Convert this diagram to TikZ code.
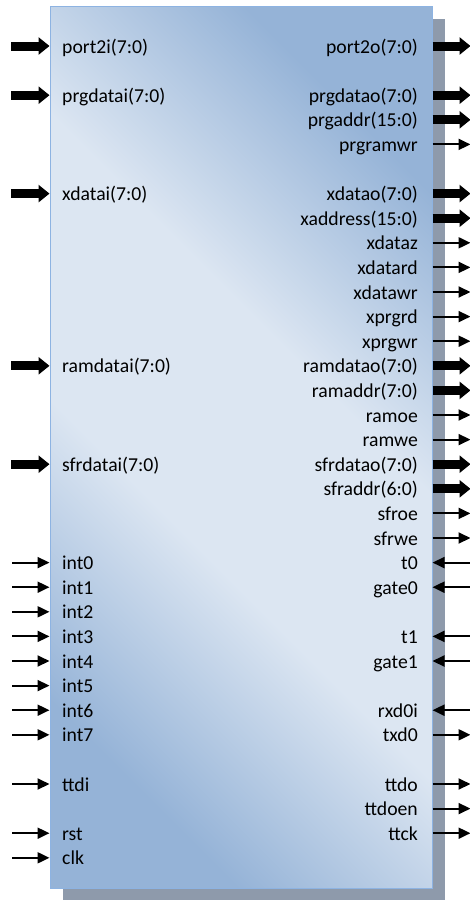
\documentclass[tikz,border=0pt]{standalone}
\usepackage{fontspec}
\setmainfont{Carlito}
\usetikzlibrary{arrows.meta,shadows}
\definecolor{boxdark}{HTML}{95B3D7}
\definecolor{boxlight}{HTML}{DCE6F2}
\definecolor{boxline}{HTML}{8DB3E2}
\definecolor{shadowgray}{HTML}{8E9AAB}
\pgfdeclareverticalshading{corefill}{100bp}{color(0bp)=(boxdark); color(25bp)=(boxdark);
  color(42bp)=(boxlight); color(58bp)=(boxlight); color(75bp)=(boxdark); color(100bp)=(boxdark)}

\begin{document}
\begin{tikzpicture}[x=1pt,y=-1pt,
  pinl/.style={anchor=west,inner sep=0pt,text height=14pt,text depth=0pt,font=\fontsize{19.7}{24}\selectfont},
  pinr/.style={pinl,anchor=east},
  wire/.style={line width=2pt,>={Triangle[length=12pt,width=11pt]}},
  bus/.style={line width=9pt,>={Triangle[length=11pt,width=17pt]}}]
\useasboundingbox (0,0) rectangle (470,900);
\node[draw=boxline,line width=1pt,inner sep=0pt,minimum width=382pt,minimum height=882pt,
  shade,shading=corefill,shading angle=-45,
  drop shadow={shadow xshift=12.5pt,shadow yshift=-12.5pt,fill=shadowgray,opacity=1}] (core) at (241,447) {};

\node[pinl] (port2i) at (62,46) {port2i(7:0)};
\node[pinl] (prgdatai) at (62,95.2) {prgdatai(7:0)};
\node[pinl] (xdatai) at (62,193.6) {xdatai(7:0)};
\node[pinl] (ramdatai) at (62,365.8) {ramdatai(7:0)};
\node[pinl] (sfrdatai) at (62,464.2) {sfrdatai(7:0)};
\node[pinl] (int0) at (62,562.6) {int0};
\node[pinl] (int1) at (62,587.2) {int1};
\node[pinl] (int2) at (62,611.8) {int2};
\node[pinl] (int3) at (62,636.4) {int3};
\node[pinl] (int4) at (62,661) {int4};
\node[pinl] (int5) at (62,685.6) {int5};
\node[pinl] (int6) at (62,710.2) {int6};
\node[pinl] (int7) at (62,734.8) {int7};
\node[pinl] (ttdi) at (62,784) {ttdi};
\node[pinl] (rst) at (62,833.2) {rst};
\node[pinl] (clk) at (62,857.8) {clk};

\node[pinr] (port2o) at (418,46) {port2o(7:0)};
\node[pinr] (prgdatao) at (418,95.2) {prgdatao(7:0)};
\node[pinr] (prgaddr) at (418,119.8) {prgaddr(15:0)};
\node[pinr] (prgramwr) at (418,144.4) {prgramwr};
\node[pinr] (xdatao) at (418,193.6) {xdatao(7:0)};
\node[pinr] (xaddress) at (418,218.2) {xaddress(15:0)};
\node[pinr] (xdataz) at (418,242.8) {xdataz};
\node[pinr] (xdatard) at (418,267.4) {xdatard};
\node[pinr] (xdatawr) at (418,292) {xdatawr};
\node[pinr] (xprgrd) at (418,316.6) {xprgrd};
\node[pinr] (xprgwr) at (418,341.2) {xprgwr};
\node[pinr] (ramdatao) at (418,365.8) {ramdatao(7:0)};
\node[pinr] (ramaddr) at (418,390.4) {ramaddr(7:0)};
\node[pinr] (ramoe) at (418,415) {ramoe};
\node[pinr] (ramwe) at (418,439.6) {ramwe};
\node[pinr] (sfrdatao) at (418,464.2) {sfrdatao(7:0)};
\node[pinr] (sfraddr) at (418,488.8) {sfraddr(6:0)};
\node[pinr] (sfroe) at (418,513.4) {sfroe};
\node[pinr] (sfrwe) at (418,538) {sfrwe};
\node[pinr] (t0) at (418,562.6) {t0};
\node[pinr] (gate0) at (418,587.2) {gate0};
\node[pinr] (t1) at (418,636.4) {t1};
\node[pinr] (gate1) at (418,661) {gate1};
\node[pinr] (rxd0i) at (418,710.2) {rxd0i};
\node[pinr] (txd0) at (418,734.8) {txd0};
\node[pinr] (ttdo) at (418,784) {ttdo};
\node[pinr] (ttdoen) at (418,808.6) {ttdoen};
\node[pinr] (ttck) at (418,833.2) {ttck};

\draw[bus,<-] (core.west |- port2i) -- ++(-39,0);
\draw[bus,<-] (core.west |- prgdatai) -- ++(-39,0);
\draw[bus,<-] (core.west |- xdatai) -- ++(-39,0);
\draw[bus,<-] (core.west |- ramdatai) -- ++(-39,0);
\draw[bus,<-] (core.west |- sfrdatai) -- ++(-39,0);
\draw[wire,<-] (core.west |- int0) -- ++(-38,0);
\draw[wire,<-] (core.west |- int1) -- ++(-38,0);
\draw[wire,<-] (core.west |- int2) -- ++(-38,0);
\draw[wire,<-] (core.west |- int3) -- ++(-38,0);
\draw[wire,<-] (core.west |- int4) -- ++(-38,0);
\draw[wire,<-] (core.west |- int5) -- ++(-38,0);
\draw[wire,<-] (core.west |- int6) -- ++(-38,0);
\draw[wire,<-] (core.west |- int7) -- ++(-38,0);
\draw[wire,<-] (core.west |- ttdi) -- ++(-38,0);
\draw[wire,<-] (core.west |- rst) -- ++(-38,0);
\draw[wire,<-] (core.west |- clk) -- ++(-38,0);

\draw[bus,->] (core.east |- port2o) -- ++(38,0);
\draw[bus,->] (core.east |- prgdatao) -- ++(38,0);
\draw[bus,->] (core.east |- prgaddr) -- ++(38,0);
\draw[wire,->] (core.east |- prgramwr) -- ++(38,0);
\draw[bus,->] (core.east |- xdatao) -- ++(38,0);
\draw[bus,->] (core.east |- xaddress) -- ++(38,0);
\draw[wire,->] (core.east |- xdataz) -- ++(38,0);
\draw[wire,->] (core.east |- xdatard) -- ++(38,0);
\draw[wire,->] (core.east |- xdatawr) -- ++(38,0);
\draw[wire,->] (core.east |- xprgrd) -- ++(38,0);
\draw[wire,->] (core.east |- xprgwr) -- ++(38,0);
\draw[bus,->] (core.east |- ramdatao) -- ++(38,0);
\draw[bus,->] (core.east |- ramaddr) -- ++(38,0);
\draw[wire,->] (core.east |- ramoe) -- ++(38,0);
\draw[wire,->] (core.east |- ramwe) -- ++(38,0);
\draw[bus,->] (core.east |- sfrdatao) -- ++(38,0);
\draw[bus,->] (core.east |- sfraddr) -- ++(38,0);
\draw[wire,->] (core.east |- sfroe) -- ++(38,0);
\draw[wire,->] (core.east |- sfrwe) -- ++(38,0);
\draw[wire,<-] (core.east |- t0) -- ++(38,0);
\draw[wire,<-] (core.east |- gate0) -- ++(38,0);
\draw[wire,<-] (core.east |- t1) -- ++(38,0);
\draw[wire,<-] (core.east |- gate1) -- ++(38,0);
\draw[wire,<-] (core.east |- rxd0i) -- ++(38,0);
\draw[wire,->] (core.east |- txd0) -- ++(38,0);
\draw[wire,->] (core.east |- ttdo) -- ++(38,0);
\draw[wire,->] (core.east |- ttdoen) -- ++(38,0);
\draw[wire,->] (core.east |- ttck) -- ++(38,0);
\end{tikzpicture}
\end{document}
